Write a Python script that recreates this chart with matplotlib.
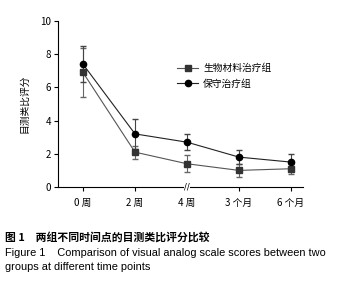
import matplotlib
matplotlib.use('Agg')
import matplotlib.pyplot as plt
from matplotlib.lines import Line2D

plt.rcParams['font.family'] = ['Noto Sans CJK SC', 'DejaVu Sans']

# data
time_points = ['0 周', '2 周', '4 周', '3 个月', '6 个月']
bio_mean = [6.9, 2.1, 1.4, 1.0, 1.1]
bio_err = [1.5, 0.4, 0.5, 0.4, 0.3]
cons_mean = [7.4, 3.2, 2.7, 1.8, 1.5]
cons_err = [1.1, 0.9, 0.5, 0.4, 0.5]
y_ticks = [0, 2, 4, 6, 8, 10]

fig = plt.figure(figsize=(3.45, 2.83), dpi=100)
ax = fig.add_axes([58 / 345, 1 - 187 / 283, 245 / 345, 166 / 283])

x = list(range(len(time_points)))
ax.errorbar(x, bio_mean, yerr=bio_err, color='#555555', ecolor='#666666',
            marker='s', markersize=4, mfc='#333333', mec='#333333',
            lw=0.8, elinewidth=0.8, capsize=2.5)
ax.errorbar(x, cons_mean, yerr=cons_err, color='#222222', ecolor='#444444',
            marker='o', markersize=4.5, mfc='black', mec='black',
            lw=0.8, elinewidth=0.8, capsize=2.5)

ax.set_xlim(-0.48, 4.23)
ax.set_ylim(0, 10)
ax.set_yticks(y_ticks)
ax.set_xticks(x)
ax.set_xticklabels(time_points)
ax.tick_params(axis='both', labelsize=7, length=3, width=0.8, pad=2)
ax.tick_params(axis='x', pad=5)
for s in ['top', 'right']:
    ax.spines[s].set_visible(False)
for s in ['left', 'bottom']:
    ax.spines[s].set_linewidth(0.8)

# axis break mark at 4 weeks
ax.text(2, 0, '//', ha='center', va='center', fontsize=6, family='DejaVu Sans',
        bbox=dict(fc='white', ec='none', pad=0.3), clip_on=False)

ax.set_ylabel('目测类比评分', fontsize=7, labelpad=8)

handles = [
    Line2D([], [], color='#555555', lw=0.8, marker='s', markersize=4,
           mfc='#333333', mec='#333333'),
    Line2D([], [], color='#222222', lw=0.8, marker='o', markersize=4.5,
           mfc='black', mec='black'),
]
ax.legend(handles, ['生物材料治疗组', '保守治疗组'], loc='upper left',
          bbox_to_anchor=(0.45, 0.80), frameon=False, fontsize=7,
          handlelength=2.2, handletextpad=0.5, labelspacing=0.6)

fig.text(5 / 345, 1 - 237 / 283, '图 1　两组不同时间点的目测类比评分比较',
         fontsize=7.8, fontweight='bold', va='center')
fig.text(5 / 345, 1 - 253 / 283,
         'Figure 1    Comparison of visual analog scale scores between two',
         fontsize=7.9, va='center', family=['Liberation Sans', 'DejaVu Sans'])
fig.text(5 / 345, 1 - 267 / 283, 'groups at different time points',
         fontsize=7.9, va='center', family=['Liberation Sans', 'DejaVu Sans'])

fig.savefig('out.png', dpi=100)
